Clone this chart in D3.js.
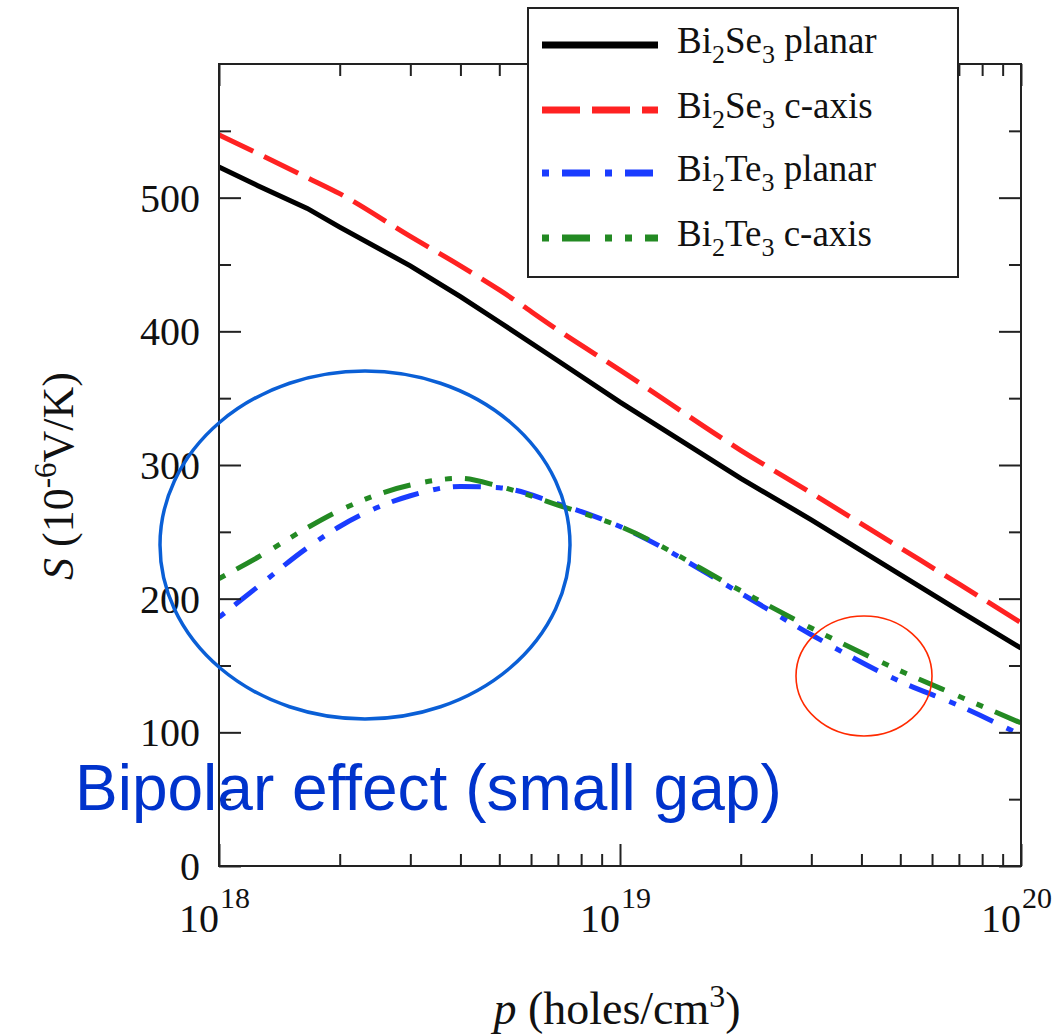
<!DOCTYPE html>
<html>
<head>
<meta charset="utf-8">
<script src="https://cdn.jsdelivr.net/npm/d3@7"></script>
<style>
body { margin: 0; background: #fff; }
text { font-family: "Liberation Serif", "Times New Roman", serif; fill: #111; }
</style>
</head>
<body>
<svg id="chart" width="1059" height="1035"></svg>
<script>
// hole density (holes/cm^3)
var pValues = [1e18, 1.25e18, 1.66e18, 2e18, 3e18, 4e18, 5e18, 7e18, 1e19, 2e19, 3e19, 5e19, 7e19, 1e20];
// Seebeck coefficient S (10^-6 V/K)
var sePlanar = [523, 509, 492, 478, 449, 426, 407, 378, 347, 290, 259, 218, 191, 163];
var seCaxis  = [547, 533, 515, 503, 471, 449, 431, 401, 371, 311, 279, 238, 211, 182];
var tePlanar = [186, 209, 238, 254, 277, 284, 283, 271, 254, 204, 173, 138, 120, 98];
var teCaxis  = [215, 231, 253, 266, 285, 290, 284, 270, 254, 206, 178, 146, 127, 107];

var yTicks = [0, 100, 200, 300, 400, 500];
var yMinor = [50, 150, 250, 350, 450, 550];
var xTicks = [1e18, 1e19, 1e20];
var xExp = ["18", "19", "20"];
var xMinor = [2e18, 3e18, 4e18, 5e18, 6e18, 7e18, 8e18, 9e18, 2e19, 3e19, 4e19, 5e19, 6e19, 7e19, 8e19, 9e19];

var series = [
    { el: "Se", dir: "planar", values: sePlanar, color: "#000000", dash: null, curve: d3.curveLinear },
    { el: "Se", dir: "c-axis", values: seCaxis, color: "#ff2222", dash: "38,12", curve: d3.curveMonotoneX },
    { el: "Te", dir: "planar", values: tePlanar, color: "#1a3cff", dash: "7,13,28,15", curve: d3.curveMonotoneX },
    { el: "Te", dir: "c-axis", values: teCaxis, color: "#238a23", dash: "7,13,28,15,7,13", curve: d3.curveMonotoneX }
];

var svg = d3.select("#chart"),
    plotLeft = 219, plotTop = 64,
    width = 802, height = 802;

var x = d3.scaleLog().domain([1e18, 1e20]).range([0, width]);
var y = d3.scaleLinear().domain([0, 600]).range([height, 0]);

var g = svg.append("g").attr("transform", "translate(" + plotLeft + "," + plotTop + ")");

g.append("clipPath").attr("id", "plotclip")
    .append("rect").attr("width", width).attr("height", height);

// curves
var line = d3.line()
    .x(function (d) { return x(d[0]); })
    .y(function (d) { return y(d[1]); });

g.append("g").attr("clip-path", "url(#plotclip)")
    .selectAll("path")
    .data(series)
    .enter().append("path")
    .attr("fill", "none")
    .attr("stroke", function (d) { return d.color; })
    .attr("stroke-width", 5)
    .attr("stroke-dasharray", function (d) { return d.dash; })
    .attr("d", function (d) {
        return line.curve(d.curve)(d3.zip(pValues, d.values));
    });

// ticks on all four sides, pointing inwards
function ticks(axis, vals, len, tr) {
    var a = g.append("g").attr("transform", tr)
        .call(axis.tickValues(vals).tickSize(-len).tickFormat(""));
    a.select(".domain").remove();
    a.selectAll("line").attr("stroke", "#222").attr("stroke-width", 2);
}
ticks(d3.axisBottom(x), xTicks, 22, "translate(0," + height + ")");
ticks(d3.axisBottom(x), xMinor, 12, "translate(0," + height + ")");
ticks(d3.axisTop(x), xTicks, 22, "translate(0,0)");
ticks(d3.axisTop(x), xMinor, 12, "translate(0,0)");
ticks(d3.axisLeft(y), yTicks, 22, "translate(0,0)");
ticks(d3.axisLeft(y), yMinor, 12, "translate(0,0)");
ticks(d3.axisRight(y), yTicks, 22, "translate(" + width + ",0)");
ticks(d3.axisRight(y), yMinor, 12, "translate(" + width + ",0)");

g.append("rect")
    .attr("width", width).attr("height", height)
    .attr("fill", "none").attr("stroke", "#222").attr("stroke-width", 2);

// tick labels
g.selectAll(".ylab")
    .data(yTicks)
    .enter().append("text")
    .attr("class", "ylab")
    .attr("x", -19)
    .attr("y", function (d) { return y(d); })
    .attr("dy", "0.35em")
    .attr("text-anchor", "end")
    .style("font-size", "40px")
    .text(function (d) { return d; });

var xl = g.selectAll(".xlab")
    .data(xTicks)
    .enter().append("g")
    .attr("class", "xlab")
    .attr("transform", function (d) { return "translate(" + x(d) + "," + height + ")"; });
xl.append("text")
    .attr("y", 66)
    .attr("text-anchor", "end")
    .style("font-size", "40px")
    .text("10");
xl.append("text")
    .attr("x", 1)
    .attr("y", 42)
    .style("font-size", "30px")
    .text(function (d, i) { return xExp[i]; });

// axis titles
var xt = svg.append("text")
    .attr("x", 617).attr("y", 1024)
    .attr("text-anchor", "middle")
    .style("font-size", "46px");
xt.append("tspan").style("font-style", "italic").text("p");
xt.append("tspan").text(" (holes/cm");
xt.append("tspan").attr("dy", -17).style("font-size", "32px").text("3");
xt.append("tspan").attr("dy", 17).text(")");

var yt = svg.append("text")
    .attr("transform", "translate(73,476) rotate(-90)")
    .attr("text-anchor", "middle")
    .style("font-size", "44px");
yt.append("tspan").style("font-style", "italic").text("S");
yt.append("tspan").text(" (10");
yt.append("tspan").attr("dy", -17).style("font-size", "31px").text("-6");
yt.append("tspan").attr("dy", 17).text("V/K)");

// annotations
svg.append("ellipse")
    .attr("cx", 365).attr("cy", 545).attr("rx", 205).attr("ry", 174)
    .attr("fill", "none").attr("stroke", "#0a5fd6").attr("stroke-width", 3.5);
svg.append("ellipse")
    .attr("cx", 864).attr("cy", 676).attr("rx", 68).attr("ry", 60)
    .attr("fill", "none").attr("stroke", "#ff2a00").attr("stroke-width", 1.6);
svg.append("text")
    .attr("x", 75).attr("y", 810)
    .style("font-family", "'Liberation Sans', Arial, sans-serif")
    .style("font-size", "64px")
    .style("fill", "#0033cc")
    .text("Bipolar effect (small gap)");

// legend
var legend = svg.append("g").attr("transform", "translate(528,8)");
legend.append("rect")
    .attr("width", 430).attr("height", 269)
    .attr("fill", "#fff").attr("stroke", "#222").attr("stroke-width", 2);

var rowY = [37, 102, 165, 230];
var row = legend.selectAll(".row")
    .data(series)
    .enter().append("g")
    .attr("class", "row")
    .attr("transform", function (d, i) { return "translate(0," + rowY[i] + ")"; });
row.append("line")
    .attr("x1", 14).attr("x2", 130)
    .attr("stroke", function (d) { return d.color; })
    .attr("stroke-width", 7)
    .attr("stroke-dasharray", function (d) { return d.dash; });
var lt = row.append("text")
    .attr("x", 149).attr("y", 8)
    .style("font-size", "37px");
lt.append("tspan").text("Bi");
lt.append("tspan").attr("dy", 10).style("font-size", "26px").text("2");
lt.append("tspan").attr("dy", -10).text(function (d) { return d.el; });
lt.append("tspan").attr("dy", 10).style("font-size", "26px").text("3");
lt.append("tspan").attr("dy", -10).text(function (d) { return " " + d.dir; });
</script>
</body>
</html>
